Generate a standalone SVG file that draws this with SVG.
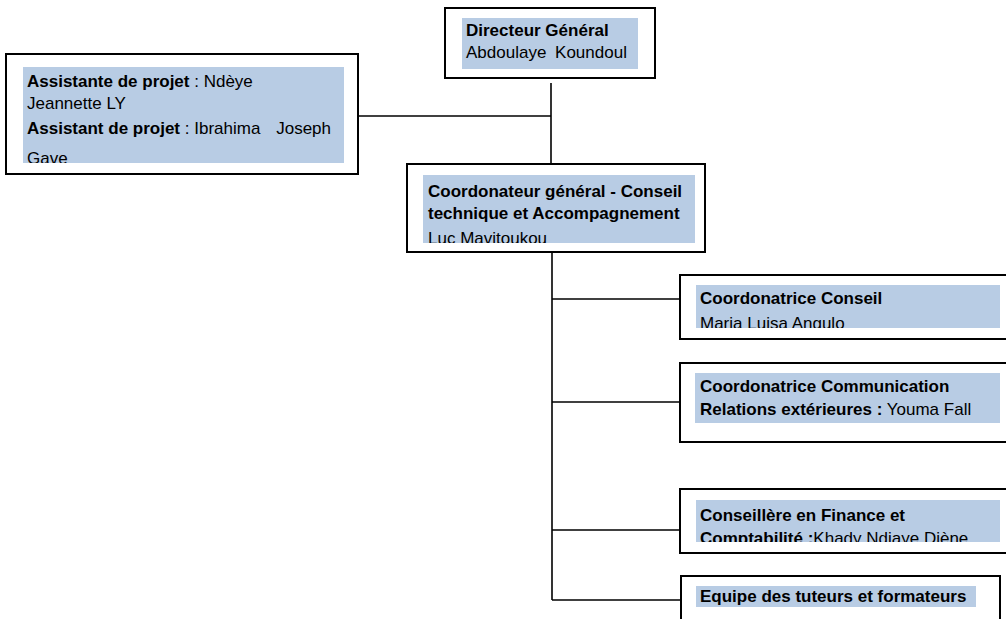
<svg xmlns="http://www.w3.org/2000/svg" width="1006" height="619" viewBox="0 0 1006 619">
<style>
.box{fill:#fff;stroke:#000;stroke-width:2}
.hl{fill:#b8cce4}
text{font-family:"Liberation Sans",Arial,sans-serif;font-size:17px;fill:#000}
.b{font-weight:bold}
.con{stroke:#000;stroke-width:1.6;fill:none}
</style>
<defs>
<clipPath id="cA"><rect x="23" y="67" width="321" height="96"/></clipPath>
<clipPath id="cC"><rect x="423" y="175" width="272" height="68"/></clipPath>
<clipPath id="c1"><rect x="696" y="285" width="304" height="43"/></clipPath>
<clipPath id="c3"><rect x="696" y="500" width="304" height="42"/></clipPath>
</defs>
<rect width="1006" height="619" fill="#fff"/>
<g id="connectors">
<line class="con" x1="551" y1="83" x2="551" y2="164"/>
<line class="con" x1="358" y1="116" x2="551" y2="116"/>
<line class="con" x1="552" y1="234" x2="552" y2="600"/>
<line class="con" x1="552" y1="299" x2="680" y2="299"/>
<line class="con" x1="552" y1="402" x2="680" y2="402"/>
<line class="con" x1="552" y1="530" x2="680" y2="530"/>
<line class="con" x1="552" y1="600" x2="681" y2="600"/>
</g>
<g id="directeur">
<rect class="box" x="445" y="8" width="210" height="70"/>
<rect class="hl" x="462" y="18" width="176" height="51"/>
<text class="b" x="466" y="36">Directeur Général</text>
<text x="466" y="58">Abdoulaye<tspan dx="4"> Koundoul</tspan></text>
</g>
<g id="assistants">
<rect class="box" x="6" y="54" width="352" height="120"/>
<rect class="hl" x="23" y="67" width="321" height="96"/>
<g clip-path="url(#cA)">
<text x="27" y="87"><tspan class="b">Assistante de projet</tspan> : Ndèye</text>
<text x="27" y="109">Jeannette LY</text>
<text x="27" y="134"><tspan class="b">Assistant de projet</tspan> : Ibrahima</text>
<text x="331" y="134" text-anchor="end">Joseph</text>
<text x="27" y="164">Gave</text>
</g>
</g>
<g id="coordonateur">
<rect class="box" x="407" y="164" width="298" height="88"/>
<rect class="hl" x="423" y="175" width="272" height="68"/>
<g clip-path="url(#cC)">
<text class="b" x="428" y="197">Coordonateur général - Conseil</text>
<text class="b" x="428" y="219">technique et Accompagnement</text>
<text x="428" y="244">Luc Mavitoukou</text>
</g>
</g>
<g id="conseil">
<rect class="box" x="680" y="275" width="340" height="64"/>
<rect class="hl" x="696" y="285" width="304" height="43"/>
<g clip-path="url(#c1)">
<text class="b" x="700" y="304">Coordonatrice Conseil</text>
<text x="700" y="329">Maria Luisa Angulo</text>
</g>
</g>
<g id="communication">
<rect class="box" x="680" y="363" width="340" height="79"/>
<rect class="hl" x="695" y="373" width="305" height="50"/>
<text class="b" x="700" y="392">Coordonatrice Communication</text>
<text x="700" y="415"><tspan class="b">Relations extérieures :</tspan> Youma Fall</text>
</g>
<g id="finance">
<rect class="box" x="680" y="489" width="340" height="64"/>
<rect class="hl" x="696" y="500" width="304" height="42"/>
<g clip-path="url(#c3)">
<text class="b" x="700" y="521">Conseillère en Finance et</text>
<text x="700" y="544"><tspan class="b">Comptabilité :</tspan>Khady Ndiaye Diène</text>
</g>
</g>
<g id="equipe">
<path class="box" d="M681,630 V576 H1000 V630"/>
<rect class="hl" x="696" y="586" width="280" height="21"/>
<text class="b" x="700" y="602">Equipe des tuteurs et formateurs</text>
</g>
</svg>
